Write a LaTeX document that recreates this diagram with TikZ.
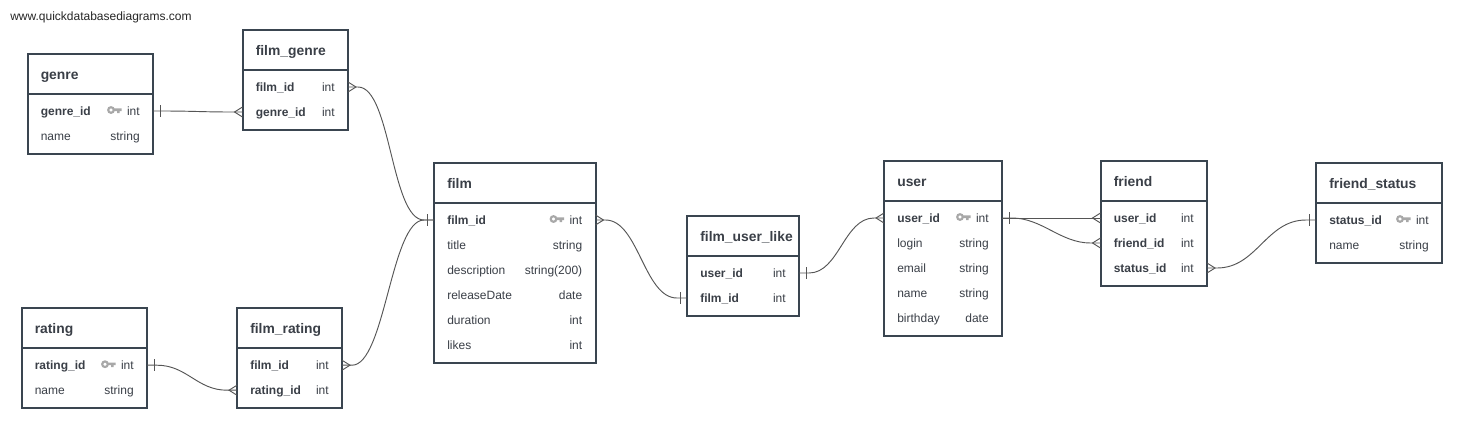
\documentclass[tikz,border=0pt]{standalone}
\usepackage{fontspec}
\setmainfont{Liberation Sans}
\usetikzlibrary{calc}
\definecolor{boxc}{HTML}{3A4550}
\definecolor{textc}{HTML}{3A3F47}
\definecolor{linec}{HTML}{555555}
\definecolor{keyc}{HTML}{A8A8A8}
\tikzset{
  tablebody/.style={draw=boxc,line width=1.5pt,fill=white,inner sep=0pt},
  titletext/.style={anchor=base west,inner sep=0pt,text=textc,font=\fontsize{10.4}{12}\selectfont\bfseries},
  fieldtext/.style={anchor=base west,inner sep=0pt,text=textc,font=\fontsize{9}{11}\selectfont},
  boldtext/.style={fieldtext,font=\fontsize{9}{11}\selectfont\bfseries},
  typetext/.style={anchor=base east,inner sep=0pt,text=textc,font=\fontsize{9}{11}\selectfont},
  conn/.style={draw=linec,line width=0.7pt},
  keyring/.style={draw=keyc,line width=1.6pt},
  keyshaft/.style={fill=keyc,draw=none},
}
% #1 table name, #2 row index, #3 x left, #4 y, #5 width, #6 field, #7 type
\newcommand\rown[7]{%
  \node[fieldtext] (#1-#2-f) at (#3+13,#4+4) {#6};
  \node[typetext] (#1-#2-t) at (#3+#5-13,#4+4) {#7};}
\newcommand\rowb[7]{%
  \node[boldtext] (#1-#2-f) at (#3+13,#4+4) {#6};
  \node[typetext] (#1-#2-t) at (#3+#5-13,#4+4) {#7};}
\newcommand\rowk[7]{%
  \rowb{#1}{#2}{#3}{#4}{#5}{#6}{#7}
  \draw[keyring] (#3+#5-42,#4-1) circle[radius=2.8];
  \fill[keyshaft] (#3+#5-39,#4-2.6) rectangle (#3+#5-31.5,#4+0)
    (#3+#5-36,#4) rectangle (#3+#5-33.5,#4+2);}
% #1 name, #2 x, #3 y, #4 width, #5 rows count, #6 title, #7 rows
\newcommand\dbtable[7]{%
  \node[tablebody,minimum width=#4*0.75pt,minimum height=(50+25*#5)*0.75pt] (#1) at (#2+#4/2,#3+25+12.5*#5) {};
  \draw[boxc,line width=1.5pt] (#2,#3+40) -- (#2+#4,#3+40);
  \node[titletext] (#1-title) at (#2+13,#3+25) {#6};
  \foreach \rk/\rf/\rt [count=\ri] in {#7} {
    \coordinate (#1-\ri-L) at (#2,#3+57+25*\ri-25);
    \coordinate (#1-\ri-R) at (#2+#4,#3+57+25*\ri-25);
    \csname row\rk\endcsname{#1}{\ri}{#2}{#3+57+25*\ri-25}{#4}{\rf}{\rt}
  }}
% #1 coordinate, #2 side sign
\newcommand\manyend[2]{%
  \draw[conn] ($(#1)+(0,-5)$) -- ($(#1)+(#2*8,0)$) -- ($(#1)+(0,5)$);}
\newcommand\oneend[2]{%
  \draw[conn] ($(#1)+(#2*7,-6)$) -- ($(#1)+(#2*7,6)$);}
% #1 start (right side), #2 end (left side), #3 control distance
\newcommand\erlink[3]{%
  \draw[conn] (#1) -- ($(#1)+(10,0)$) .. controls ($(#1)+(10+#3,0)$) and ($(#2)-(10+#3,0)$) .. ($(#2)-(10,0)$) -- (#2);}
\begin{document}
\begin{tikzpicture}[x=0.75pt,y=-0.75pt]
\useasboundingbox (0,0) rectangle (1480,444);
\fill[white] (0,0) rectangle (1480,444);
\node[anchor=base west,inner sep=0pt,text=black!85,font=\fontsize{9}{11}\selectfont] (site) at (10,20) {www.quickdatabasediagrams.com};

\dbtable{genre}{27.5}{54}{125.5}{2}{genre}{k/genre\_id/int,n/name/string}
\dbtable{filmgenre}{242.5}{30}{105.5}{2}{film\_genre}{b/film\_id/int,b/genre\_id/int}
\dbtable{film}{434}{163}{161.5}{6}{film}{k/film\_id/int,n/title/string,n/description/string(200),n/releaseDate/date,n/duration/int,n/likes/int}
\dbtable{like}{687}{216}{112}{2}{film\_user\_like}{b/user\_id/int,b/film\_id/int}
\dbtable{user}{884}{161}{118}{5}{user}{k/user\_id/int,n/login/string,n/email/string,n/name/string,n/birthday/date}
\dbtable{friend}{1100.5}{161}{106.5}{3}{friend}{b/user\_id/int,b/friend\_id/int,b/status\_id/int}
\dbtable{status}{1316}{163}{126}{2}{friend\_status}{k/status\_id/int,n/name/string}
\dbtable{rating}{21.5}{308.2}{125.5}{2}{rating}{k/rating\_id/int,n/name/string}
\dbtable{filmrating}{237}{308.2}{105}{2}{film\_rating}{b/film\_id/int,b/rating\_id/int}

\erlink{genre-1-R}{filmgenre-2-L}{30}
\oneend{genre-1-R}{1}\manyend{filmgenre-2-L}{-1}
\erlink{filmgenre-1-R}{film-1-L}{33}
\manyend{filmgenre-1-R}{1}\oneend{film-1-L}{-1}
\erlink{filmrating-1-R}{film-1-L}{33}
\manyend{filmrating-1-R}{1}
\erlink{rating-1-R}{filmrating-2-L}{30}
\oneend{rating-1-R}{1}\manyend{filmrating-2-L}{-1}
\erlink{film-1-R}{like-2-L}{33}
\manyend{film-1-R}{1}\oneend{like-2-L}{-1}
\erlink{like-1-R}{user-1-L}{30}
\oneend{like-1-R}{1}\manyend{user-1-L}{-1}
\draw[conn] (user-1-R) -- (friend-1-L);
\erlink{user-1-R}{friend-2-L}{30}
\oneend{user-1-R}{1}\manyend{friend-1-L}{-1}\manyend{friend-2-L}{-1}
\erlink{friend-3-R}{status-1-L}{40}
\manyend{friend-3-R}{1}\oneend{status-1-L}{-1}
\end{tikzpicture}
\end{document}
